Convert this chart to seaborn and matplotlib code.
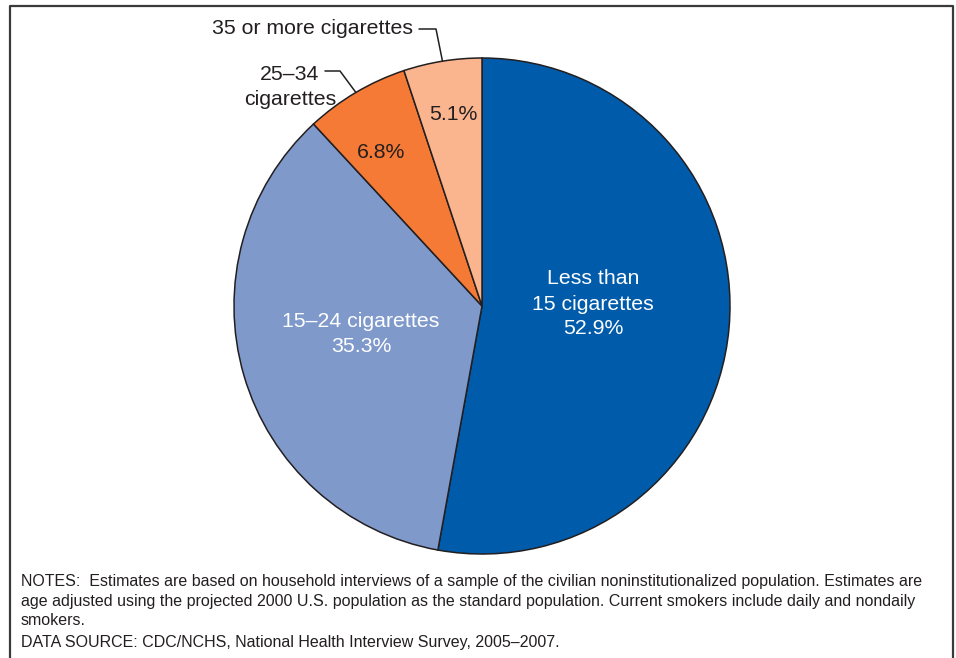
import numpy as np
import matplotlib
matplotlib.use('Agg')
import matplotlib.pyplot as plt
import seaborn as sns
from matplotlib.lines import Line2D

# data (share of current smokers by cigarettes per day)
categories = ['Less than\n15 cigarettes', '15\u201324 cigarettes', '25\u201334\ncigarettes', '35 or more cigarettes']
shares = [52.9, 35.3, 6.8, 5.1]
colors = ['#005BAA', '#7F99CB', '#F47A35', '#FBB58E']
inside_text_colors = ['white', 'white', '#231F20', '#231F20']

notes = ("NOTES:  Estimates are based on household interviews of a sample of the civilian noninstitutionalized population. Estimates are\n"
         "age adjusted using the projected 2000 U.S. population as the standard population. Current smokers include daily and nondaily\n"
         "smokers.")
source = "DATA SOURCE: CDC/NCHS, National Health Interview Survey, 2005\u20132007."

sns.set_style('white')
plt.rcParams['font.family'] = ['Liberation Sans', 'DejaVu Sans']

W, H = 956, 658
fig = plt.figure(figsize=(W / 100, H / 100), dpi=100)
ax = fig.add_axes([0, 0, 1, 1])

# pixel coordinates, y pointing down -> counterclock=True draws clockwise on screen
cx, cy, R = 482, 306, 248
dark = '#231F20'
wedges, _ = ax.pie(shares, colors=colors, startangle=-90, counterclock=True,
                   center=(cx, cy), radius=R,
                   wedgeprops=dict(edgecolor=dark, linewidth=1.1))
ax.set_xlim(0, W)
ax.set_ylim(H, 0)
ax.set_aspect('equal')
ax.axis('off')

fs = 15.3
# labels inside the slices
ax.text(593, 304, f"{categories[0]}\n{shares[0]:.1f}%", ha='center', va='center',
        color=inside_text_colors[0], fontsize=fs, linespacing=1.4)
ax.text(361, 334, f"{categories[1]}\n{shares[1]:.1f}%", ha='center', va='center',
        color=inside_text_colors[1], fontsize=fs, linespacing=1.35)
ax.text(381, 153, f"{shares[2]:.1f}%", ha='center', va='center',
        color=inside_text_colors[2], fontsize=fs)
ax.text(453, 114, f"{shares[3]:.1f}%", ha='center', va='center',
        color=inside_text_colors[3], fontsize=fs)

# outside labels with leader lines to the middle of the small slices
def edge_point(w):
    mid = np.deg2rad((w.theta1 + w.theta2) / 2)
    return cx + R * np.cos(mid), cy + R * np.sin(mid)

ax.text(413, 28, categories[3], ha='right', va='center', color=dark, fontsize=fs)
ex, ey = edge_point(wedges[3])
ax.plot([419, 436, ex], [29, 29, ey], color=dark, lw=1.1)

ax.text(290, 87, categories[2], ha='center', va='center', color=dark,
        fontsize=fs, linespacing=1.35)
ex, ey = edge_point(wedges[2])
ax.plot([325, 340, ex], [71, 71, ey], color=dark, lw=1.1)

# notes
ax.text(21, 574, notes, ha='left', va='top', color=dark, fontsize=11.55, linespacing=1.38)
ax.text(21, 643, source, ha='left', va='center', color=dark, fontsize=11.55)

# open frame (left, top, right)
frame = dict(color='#3a3a3a', lw=1.6, transform=fig.transFigure)
fig.add_artist(Line2D([10 / W, 10 / W, 953 / W, 953 / W],
                      [0, 1 - 6 / H, 1 - 6 / H, 0], **frame))

fig.savefig('out.png', dpi=100)
